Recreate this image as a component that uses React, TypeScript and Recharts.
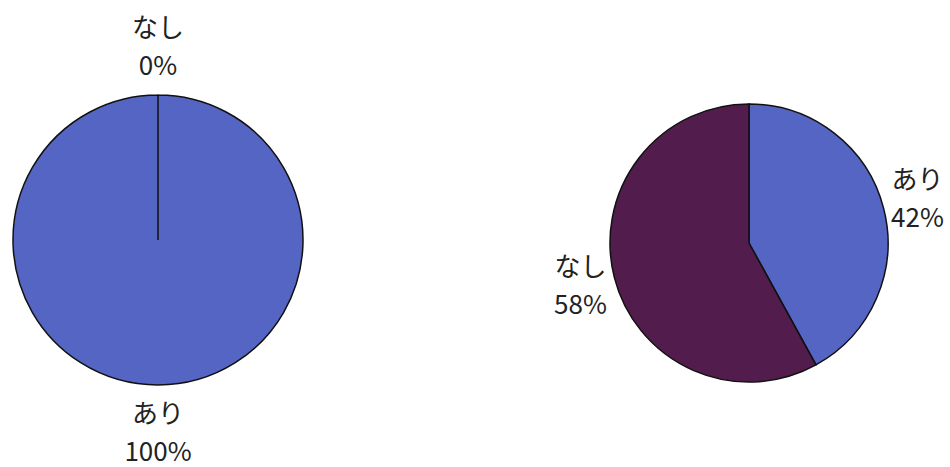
import { PieChart, Pie, Cell } from "recharts";

// 左：全件「あり」、右：あり／なし の内訳
const leftNames = ["あり", "なし"];
const leftValues = [100, 0];
const rightNames = ["あり", "なし"];
const rightValues = [42, 58];
const colors = ["#5565c3", "#521c4c"];

const leftData = leftNames.map((name, i) => ({ name, value: leftValues[i] }));
const rightData = rightNames.map((name, i) => ({ name, value: rightValues[i] }));

const RADIAN = Math.PI / 180;
const FONT = '"Noto Sans CJK JP", "Noto Sans", sans-serif';

// 扇形の中心角の方向、外周から offset 離れた位置に「名前 / 値%」を二行で置く
const makeLabel = (offset: number, lineGap: number) => (props: any) => {
  const { cx, cy, midAngle, outerRadius, name, value } = props;
  const r = outerRadius + offset;
  const x = cx + r * Math.cos(-midAngle * RADIAN);
  const y = cy + r * Math.sin(-midAngle * RADIAN) - 3;
  return (
    <g>
      <text
        x={x}
        y={y - lineGap / 2}
        textAnchor="middle"
        dominantBaseline="central"
        fill="#222"
        fontSize={26}
        fontFamily={FONT}
      >
        {name}
      </text>
      <text
        x={x}
        y={y + lineGap / 2}
        textAnchor="middle"
        dominantBaseline="central"
        fill="#222"
        fontSize={26}
        fontFamily={FONT}
      >
        {value}%
      </text>
    </g>
  );
};

export default function App() {
  return (
    <div style={{ position: "absolute", left: 0, top: 0, background: "#fff" }}>
      <PieChart width={950} height={467} margin={{ top: 0, right: 0, bottom: 0, left: 0 }}>
        <Pie
          data={leftData}
          dataKey="value"
          nameKey="name"
          cx={158}
          cy={240}
          outerRadius={145}
          startAngle={90}
          endAngle={-270}
          stroke="#111"
          strokeWidth={1.5}
          labelLine={false}
          label={makeLabel(48, 38)}
          isAnimationActive={false}
        >
          {leftData.map((d, i) => (
            <Cell key={d.name} fill={colors[i]} />
          ))}
        </Pie>
        <Pie
          data={rightData}
          dataKey="value"
          nameKey="name"
          cx={749}
          cy={243}
          outerRadius={139}
          startAngle={90}
          endAngle={-270}
          stroke="#111"
          strokeWidth={1.5}
          labelLine={false}
          label={makeLabel(35, 38)}
          isAnimationActive={false}
        >
          {rightData.map((d, i) => (
            <Cell key={d.name} fill={colors[i]} />
          ))}
        </Pie>
      </PieChart>
    </div>
  );
}
